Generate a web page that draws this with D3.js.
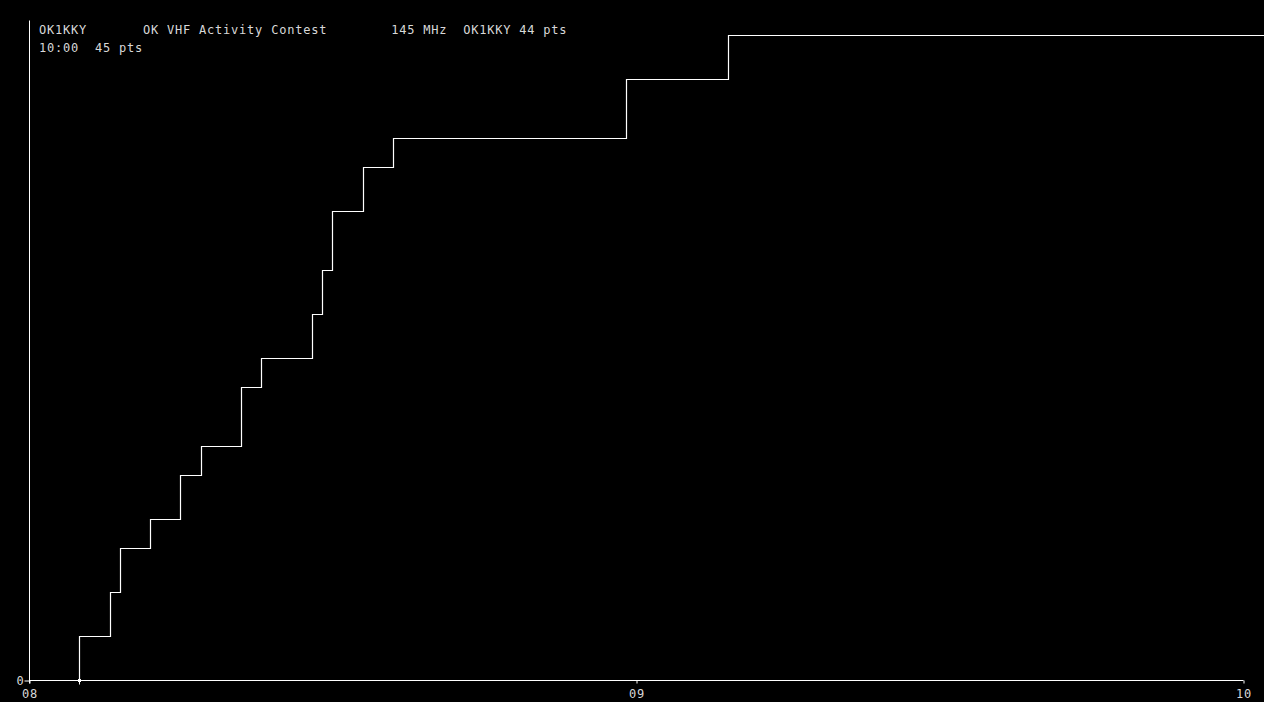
<!DOCTYPE html>
<html>
<head>
<meta charset="utf-8">
<script src="https://cdn.jsdelivr.net/npm/d3@7"></script>
<style>
  html, body { margin: 0; padding: 0; background: #000; overflow: hidden; }
  svg { display: block; }
  text { font-family: "DejaVu Sans Mono", monospace; font-size: 12px; letter-spacing: 0.78px; fill: #d8d8d8; white-space: pre; }
</style>
</head>
<body>
<script>
// ---- data ----
const headerLines = [
  "OK1KKY       OK VHF Activity Contest        145 MHz  OK1KKY 44 pts",
  "10:00  45 pts"
];
const qsoTimes = ["08:04:55","08:08:00","08:08:58","08:11:56","08:14:54","08:16:59",
                  "08:20:56","08:22:55","08:27:57","08:28:56","08:29:56","08:33:00",
                  "08:35:58","08:59:00","09:09:00"];
const scores   = [3, 6, 9, 11, 14, 16, 20, 22, 25, 28, 32, 35, 37, 41, 44];
const startTime = "08:00:00";
const endTime   = "10:00:00";
const lineEndTime = "10:02:00";
const yMax = 45;
const xTickHours = ["08:00:00", "09:00:00", "10:00:00"];
const yTicks = [0];

// ---- chart ----
const W = 1264, H = 702;
const FONT = '"DejaVu Sans Mono", monospace';
const parse = d3.timeParse("%H:%M:%S");
const svg = d3.select("body").append("svg").attr("width", W).attr("height", H);

const x = d3.scaleTime().domain([parse(startTime), parse(endTime)]).range([29.5, 1243.5]);
const y = d3.scaleLinear().domain([0, yMax]).range([680.5, 20.5]);

// header
svg.selectAll("text.hdr").data(headerLines).join("text")
  .attr("class", "hdr")
  .attr("x", 39).attr("y", (d, i) => 34 + i * 18)
  .text(d => d);

// axes
const xAxis = d3.axisBottom(x)
  .tickValues(xTickHours.map(parse))
  .tickFormat(d3.timeFormat("%H"))
  .tickSize(3).tickSizeOuter(0);
const gx = svg.append("g").attr("transform", `translate(0,${y(0)})`).call(xAxis);
gx.select(".domain").attr("stroke", "#fff").attr("d", `M${x.range()[0]},0H${x.range()[1]}`);
gx.selectAll(".tick line").attr("stroke", "#fff");
gx.selectAll(".tick text").attr("y", 17).attr("dy", 0).attr("fill", "#d8d8d8")
  .style("font-family", FONT).style("font-size", "12px");

const yAxis = d3.axisLeft(y).tickValues(yTicks).tickSize(5).tickSizeOuter(0).tickFormat(d3.format("d"));
const gy = svg.append("g").attr("transform", `translate(${x.range()[0]},0)`).call(yAxis);
gy.select(".domain").attr("stroke", "#fff").attr("d", `M0,${y.range()[1]}V${y.range()[0] + 3}`);
gy.selectAll(".tick line").attr("stroke", "#fff");
gy.selectAll(".tick text").attr("x", -5).attr("dy", "0.36em").attr("fill", "#d8d8d8")
  .style("font-family", FONT).style("font-size", "12px");

// step line
const pts = [{t: parse(qsoTimes[0]), v: 0}]
  .concat(qsoTimes.map((t, i) => ({t: parse(t), v: scores[i]})))
  .concat([{t: parse(lineEndTime), v: scores[scores.length - 1]}]);
const line = d3.line()
  .x(d => Math.round(x(d.t)) + 0.5)
  .y(d => Math.round(y(d.v) - 0.001) + 0.5)
  .curve(d3.curveStepAfter);
svg.append("path").datum(pts)
  .attr("d", line)
  .attr("fill", "none").attr("stroke", "#fff").attr("stroke-width", 1.2);

// first-QSO marker
const mx = Math.round(x(parse(qsoTimes[0]))) + 0.5;
svg.append("rect").attr("x", mx - 1.5).attr("y", y(0) - 1.5).attr("width", 3).attr("height", 3).attr("fill", "#fff");
svg.append("line").attr("x1", mx).attr("x2", mx).attr("y1", y(0)).attr("y2", y(0) + 4).attr("stroke", "#fff");
</script>
</body>
</html>
